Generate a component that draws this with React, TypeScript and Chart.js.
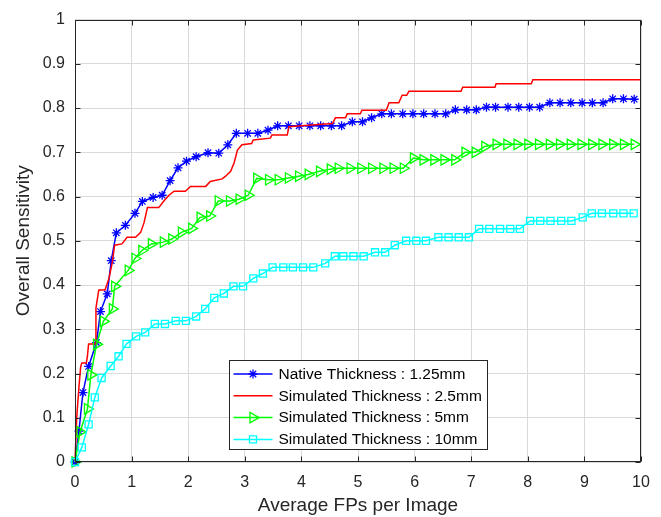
import React, { useEffect, useRef } from 'react';
import { Chart, registerables } from 'chart.js';

Chart.register(...registerables);

const FONT = '"Liberation Sans", Arial, Helvetica, sans-serif';
const AXIS_COLOR = '#262626';

const xTickValues = [0, 1, 2, 3, 4, 5, 6, 7, 8, 9, 10];
const yTickValues = [0, 0.1, 0.2, 0.3, 0.4, 0.5, 0.6, 0.7, 0.8, 0.9, 1];

const seriesLabels = [
  'Native Thickness : 1.25mm',
  'Simulated Thickness : 2.5mm',
  'Simulated Thickness : 5mm',
  'Simulated Thickness : 10mm',
];

// Native 1.25mm (blue, *)
const nativeX = [0, 0.07, 0.14, 0.24, 0.38, 0.45, 0.57, 0.64, 0.73, 0.89, 1.06, 1.19, 1.38, 1.54, 1.68, 1.82, 1.97, 2.14, 2.35, 2.54, 2.70, 2.85, 3.05, 3.23, 3.41, 3.58, 3.77, 3.96, 4.15, 4.34, 4.53, 4.71, 4.90, 5.08, 5.24, 5.42, 5.59, 5.79, 5.97, 6.16, 6.36, 6.55, 6.72, 6.92, 7.09, 7.27, 7.43, 7.65, 7.84, 8.03, 8.21, 8.39, 8.57, 8.76, 8.96, 9.14, 9.33, 9.50, 9.69, 9.88];
const nativeY = [0, 0.07, 0.157, 0.216, 0.27, 0.34, 0.38, 0.455, 0.518, 0.535, 0.562, 0.589, 0.598, 0.603, 0.636, 0.665, 0.68, 0.69, 0.699, 0.698, 0.717, 0.743, 0.743, 0.743, 0.75, 0.76, 0.76, 0.76, 0.76, 0.76, 0.76, 0.76, 0.769, 0.769, 0.778, 0.787, 0.787, 0.787, 0.787, 0.787, 0.787, 0.787, 0.796, 0.796, 0.796, 0.802, 0.802, 0.802, 0.802, 0.802, 0.802, 0.812, 0.812, 0.812, 0.812, 0.812, 0.812, 0.821, 0.821, 0.82];

// Simulated 2.5mm (red, no marker, staircase)
const sim25X = [0, 0.03, 0.07, 0.1, 0.12, 0.2, 0.22, 0.24, 0.36, 0.37, 0.42, 0.53, 0.6, 0.66, 0.7, 0.83, 0.92, 1.07, 1.16, 1.22, 1.28, 1.48, 1.57, 1.66, 1.75, 1.95, 2.04, 2.31, 2.39, 2.6, 2.66, 2.75, 2.81, 2.87, 2.95, 3.12, 3.15, 3.45, 3.48, 3.75, 3.78, 4.0, 4.55, 4.6, 4.78, 4.81, 5.04, 5.07, 5.5, 5.55, 5.72, 5.78, 5.86, 5.9, 6.82, 6.85, 7.42, 7.44, 8.06, 8.09, 10];
const sim25Y = [0, 0.1, 0.17, 0.215, 0.224, 0.224, 0.24, 0.267, 0.267, 0.348, 0.389, 0.389, 0.415, 0.452, 0.49, 0.493, 0.508, 0.508, 0.519, 0.541, 0.575, 0.575, 0.59, 0.603, 0.612, 0.612, 0.623, 0.623, 0.634, 0.64, 0.646, 0.657, 0.676, 0.705, 0.717, 0.72, 0.728, 0.732, 0.739, 0.739, 0.758, 0.76, 0.765, 0.778, 0.778, 0.787, 0.787, 0.795, 0.795, 0.812, 0.812, 0.829, 0.829, 0.838, 0.838, 0.847, 0.847, 0.855, 0.855, 0.864, 0.864];

// Simulated 5mm (green, >)
const sim5X = [0, 0.09, 0.22, 0.28, 0.38, 0.5, 0.66, 0.7, 0.94, 1.06, 1.18, 1.35, 1.56, 1.71, 1.88, 2.06, 2.21, 2.38, 2.53, 2.73, 2.90, 3.06, 3.21, 3.42, 3.59, 3.77, 3.95, 4.12, 4.32, 4.51, 4.65, 4.86, 5.05, 5.24, 5.44, 5.62, 5.80, 5.98, 6.15, 6.34, 6.52, 6.71, 6.89, 7.07, 7.24, 7.44, 7.63, 7.81, 8.0, 8.19, 8.38, 8.56, 8.75, 8.94, 9.13, 9.31, 9.50, 9.69, 9.88];
const sim5Y = [0, 0.068, 0.12, 0.197, 0.266, 0.318, 0.346, 0.397, 0.433, 0.46, 0.478, 0.493, 0.497, 0.504, 0.519, 0.528, 0.553, 0.556, 0.59, 0.59, 0.594, 0.603, 0.641, 0.638, 0.638, 0.642, 0.646, 0.65, 0.657, 0.662, 0.664, 0.664, 0.664, 0.664, 0.664, 0.664, 0.664, 0.687, 0.683, 0.683, 0.683, 0.683, 0.70, 0.70, 0.713, 0.718, 0.718, 0.718, 0.718, 0.718, 0.718, 0.718, 0.718, 0.718, 0.718, 0.718, 0.718, 0.718, 0.718];

// Simulated 10mm (cyan, squares)
const sim10X = [0, 0.12, 0.24, 0.35, 0.47, 0.63, 0.77, 0.91, 1.08, 1.24, 1.41, 1.59, 1.78, 1.96, 2.14, 2.30, 2.46, 2.63, 2.80, 2.97, 3.15, 3.32, 3.49, 3.68, 3.85, 4.03, 4.21, 4.42, 4.59, 4.74, 4.92, 5.10, 5.30, 5.48, 5.65, 5.85, 6.03, 6.20, 6.42, 6.60, 6.78, 6.96, 7.14, 7.32, 7.51, 7.69, 7.86, 8.04, 8.22, 8.40, 8.59, 8.77, 8.97, 9.13, 9.31, 9.51, 9.69, 9.87];
const sim10Y = [0, 0.033, 0.085, 0.146, 0.19, 0.217, 0.239, 0.267, 0.284, 0.293, 0.312, 0.312, 0.319, 0.319, 0.329, 0.346, 0.371, 0.381, 0.397, 0.397, 0.415, 0.426, 0.44, 0.44, 0.44, 0.44, 0.44, 0.449, 0.465, 0.465, 0.465, 0.465, 0.474, 0.474, 0.49, 0.50, 0.50, 0.50, 0.508, 0.508, 0.508, 0.508, 0.527, 0.527, 0.527, 0.527, 0.527, 0.545, 0.545, 0.545, 0.545, 0.545, 0.553, 0.562, 0.562, 0.562, 0.562, 0.562];

const seriesColors = ['#0000ff', '#ff0000', '#00ff00', '#00ffff'];
const seriesMarkers = ['star', 'none', 'triangle', 'rect'];

const toPoints = (xs: number[], ys: number[]) => xs.map((x, i) => ({ x, y: ys[i] }));

function drawMarker(ctx: CanvasRenderingContext2D, kind: string, cx: number, cy: number, color: string) {
  ctx.save();
  ctx.strokeStyle = color;
  ctx.lineWidth = 1.3;
  ctx.beginPath();
  if (kind === 'star') {
    const r = 4.5;
    const d = r * Math.SQRT1_2;
    ctx.moveTo(cx - r, cy); ctx.lineTo(cx + r, cy);
    ctx.moveTo(cx, cy - r); ctx.lineTo(cx, cy + r);
    ctx.moveTo(cx - d, cy - d); ctx.lineTo(cx + d, cy + d);
    ctx.moveTo(cx - d, cy + d); ctx.lineTo(cx + d, cy - d);
  } else if (kind === 'triangle') {
    const r = 6;
    for (let k = 0; k < 3; k++) {
      const a = Math.PI / 2 + (k * 2 * Math.PI) / 3;
      const px = cx + Math.sin(a) * r;
      const py = cy - Math.cos(a) * r;
      if (k === 0) ctx.moveTo(px, py); else ctx.lineTo(px, py);
    }
    ctx.closePath();
  } else if (kind === 'rect') {
    const s = 5 * Math.SQRT1_2;
    ctx.rect(cx - s, cy - s, 2 * s, 2 * s);
  }
  ctx.stroke();
  ctx.restore();
}

const framePlugin = {
  id: 'matlabFrame',
  afterDatasetsDraw(chart: any) {
    const { ctx, chartArea: a, scales } = chart;
    const xs = scales.x;
    const ys = scales.y;
    ctx.save();
    ctx.strokeStyle = AXIS_COLOR;
    ctx.lineWidth = 1;
    const L = Math.round(a.left) + 0.5;
    const R = Math.round(a.right) - 0.5;
    const T = Math.round(a.top) + 0.5;
    const B = Math.round(a.bottom) - 0.5;
    ctx.strokeRect(L, T, R - L, B - T);
    ctx.beginPath();
    const tl = 5;
    for (const v of xTickValues) {
      const px = Math.round(xs.getPixelForValue(v)) + 0.5;
      ctx.moveTo(px, B); ctx.lineTo(px, B - tl);
      ctx.moveTo(px, T); ctx.lineTo(px, T + tl);
    }
    for (const v of yTickValues) {
      const py = Math.round(ys.getPixelForValue(v)) + 0.5;
      ctx.moveTo(L, py); ctx.lineTo(L + tl, py);
      ctx.moveTo(R, py); ctx.lineTo(R - tl, py);
    }
    ctx.stroke();

    // Legend box
    const bx = Math.round(a.left + 154) + 0.5;
    const by = Math.round(a.top + 340) + 0.5;
    const bw = 258;
    const bh = 89;
    ctx.fillStyle = '#ffffff';
    ctx.fillRect(bx, by, bw, bh);
    ctx.strokeStyle = AXIS_COLOR;
    ctx.strokeRect(bx, by, bw, bh);
    ctx.font = `15.5px ${FONT}`;
    ctx.textBaseline = 'middle';
    ctx.textAlign = 'left';
    seriesLabels.forEach((label, i) => {
      const cy = by + 13.5 + i * 21.8;
      ctx.strokeStyle = seriesColors[i];
      ctx.lineWidth = 1.5;
      ctx.beginPath();
      ctx.moveTo(bx + 4, cy);
      ctx.lineTo(bx + 43, cy);
      ctx.stroke();
      drawMarker(ctx, seriesMarkers[i], bx + 23.5, cy, seriesColors[i]);
      ctx.fillStyle = '#000000';
      ctx.fillText(label, bx + 49, cy + 0.5);
    });
    ctx.restore();
  },
};

export default function App() {
  const canvasRef = useRef<HTMLCanvasElement | null>(null);

  useEffect(() => {
    if (!canvasRef.current) return;
    const common = {
      borderWidth: 1.5,
      tension: 0,
      fill: false,
      clip: false as any,
      pointBackgroundColor: 'rgba(0,0,0,0)',
      pointBorderWidth: 1.3,
    };
    const chart = new Chart(canvasRef.current, {
      type: 'line',
      data: {
        datasets: [
          {
            ...common,
            label: seriesLabels[0],
            data: toPoints(nativeX, nativeY),
            borderColor: seriesColors[0],
            pointBorderColor: seriesColors[0],
            pointStyle: 'star',
            pointRadius: 4.5,
            order: 4,
          },
          {
            ...common,
            label: seriesLabels[1],
            data: toPoints(sim25X, sim25Y),
            borderColor: seriesColors[1],
            pointRadius: 0,
            order: 3,
          },
          {
            ...common,
            label: seriesLabels[2],
            data: toPoints(sim5X, sim5Y),
            borderColor: seriesColors[2],
            pointBorderColor: seriesColors[2],
            pointStyle: 'triangle',
            pointRotation: 90,
            pointRadius: 6,
            order: 2,
          },
          {
            ...common,
            label: seriesLabels[3],
            data: toPoints(sim10X, sim10Y),
            borderColor: seriesColors[3],
            pointBorderColor: seriesColors[3],
            pointStyle: 'rect',
            pointRadius: 5,
            order: 1,
          },
        ] as any,
      },
      options: {
        animation: false,
        responsive: false,
        events: [],
        layout: { padding: { left: 0, top: 15, right: 20, bottom: 0 } },
        plugins: { legend: { display: false }, tooltip: { enabled: false } },
        scales: {
          x: {
            type: 'linear',
            min: 0,
            max: 10,
            afterBuildTicks: (s: any) => { s.ticks = xTickValues.map((v) => ({ value: v })); },
            afterFit: (s: any) => { s.height = 55; },
            ticks: {
              color: AXIS_COLOR,
              font: { family: FONT, size: 16 },
              padding: 11,
              maxRotation: 0,
              autoSkip: false,
              callback: (v: any) => String(v),
            },
            grid: { color: '#dadada', lineWidth: 1, drawTicks: false },
            border: { display: false },
            title: {
              display: true,
              text: 'Average FPs per Image',
              color: AXIS_COLOR,
              font: { family: FONT, size: 19 },
              padding: { top: 0, bottom: 0 },
            },
          },
          y: {
            type: 'linear',
            min: 0,
            max: 1,
            afterBuildTicks: (s: any) => { s.ticks = yTickValues.map((v) => ({ value: v })); },
            afterFit: (s: any) => { s.width = 75; },
            ticks: {
              color: AXIS_COLOR,
              font: { family: FONT, size: 16 },
              padding: 10,
              autoSkip: false,
              callback: (v: any) => String(Math.round(Number(v) * 10) / 10),
            },
            grid: { color: '#dadada', lineWidth: 1, drawTicks: false },
            border: { display: false },
            title: {
              display: true,
              text: 'Overall Sensitivity',
              color: AXIS_COLOR,
              font: { family: FONT, size: 19 },
              padding: { top: 12, bottom: 0 },
            },
          },
        },
      } as any,
      plugins: [framePlugin],
    });
    return () => chart.destroy();
  }, []);

  return (
    <div style={{ position: 'absolute', left: 0, top: 0, width: 661, height: 517, background: '#ffffff' }}>
      <canvas ref={canvasRef} width={661} height={517} style={{ width: 661, height: 517, display: 'block' }} />
    </div>
  );
}
